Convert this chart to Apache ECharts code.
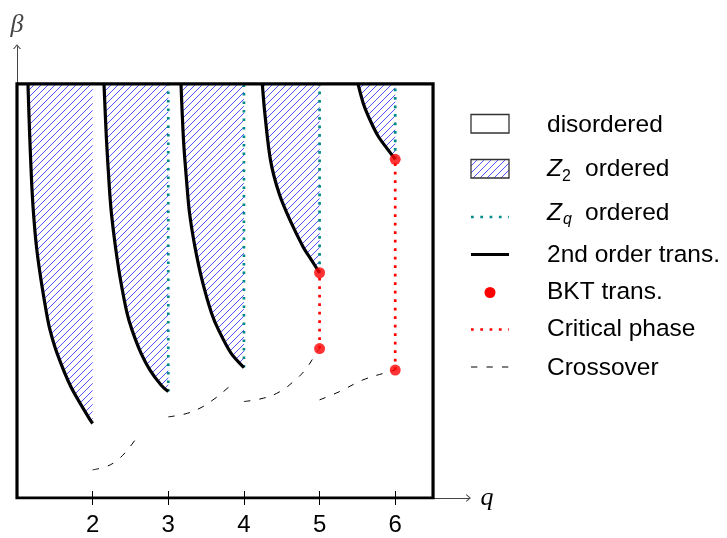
<!DOCTYPE html>
<html>
<head>
<meta charset="utf-8">
<script src="https://cdn.jsdelivr.net/npm/echarts@6/dist/echarts.min.js"></script>
<style>
html, body { margin: 0; padding: 0; background: #fff; }
#phaseChart { width: 727px; height: 538px; }
</style>
</head>
<body>
<div id="phaseChart"></div>
<script>
// q values on the x axis
const qTicks = [2, 3, 4, 5, 6];

// 2nd order transition lines, [q, beta], from top down
const trans2 = [[1.145,1.000],[1.165,0.889],[1.192,0.768],[1.218,0.688],[1.258,0.606],[1.317,0.527],[1.390,0.447],[1.436,0.406],[1.529,0.350],[1.714,0.268],[1.952,0.193],[2,0.180]];
const trans3 = [[2.150,1.000],[2.183,0.865],[2.223,0.744],[2.249,0.686],[2.302,0.606],[2.368,0.527],[2.454,0.447],[2.520,0.406],[2.639,0.350],[2.758,0.309],[2.904,0.273],[3,0.257]];
const trans4 = [[3.168,1.000],[3.201,0.865],[3.241,0.768],[3.281,0.688],[3.353,0.606],[3.446,0.527],[3.571,0.447],[3.664,0.406],[3.829,0.350],[4,0.315]];
const trans5 = [[4.243,1.000],[4.272,0.937],[4.351,0.816],[4.464,0.736],[4.609,0.671],[4.781,0.607],[4.891,0.575],[5,0.544]];
const trans6 = [[5.508,1.000],[5.578,0.953],[5.667,0.913],[5.777,0.873],[5.888,0.845],[6,0.818]];

// Z_q ordered boundaries (dotted teal)
const zqLines = [
    [[3,0.257],[3,1]],
    [[4,0.315],[4,1]],
    [[5,0.544],[5,1]],
    [[6,0.818],[6,1]]
];
// BKT points and critical phase segments
const bktPoints = [[5,0.544],[5,0.361],[6,0.818],[6,0.309]];
const criticalLines = [
    [[5,0.361],[5,0.544]],
    [[6,0.309],[6,0.818]]
];
// crossover (dashed)
const crossover = [
    [[2,0.068],[2.164,0.075],[2.296,0.087],[2.428,0.109],[2.520,0.130],[2.600,0.150]],
    [[3,0.196],[3.221,0.203],[3.419,0.217],[3.591,0.237],[3.710,0.254],[3.842,0.275]],
    [[4,0.233],[4.256,0.241],[4.477,0.257],[4.653,0.281],[4.808,0.309],[4.940,0.345],[5,0.361]],
    [[5,0.237],[5.264,0.257],[5.571,0.285],[5.880,0.303],[6,0.309]]
];
// outer box of the diagram
const frameBox = [[1,0],[6.5,0],[6.5,1],[1,1],[1,0]];

const legendLabels = ['disordered', 'ordered', 'ordered', '2nd order trans.', 'BKT trans.', 'Critical phase', 'Crossover'];

// hatch tile (blue diagonal lines)
const tile = document.createElement('canvas');
tile.width = 7; tile.height = 7;
(function(){
    let c = tile.getContext('2d');
    c.strokeStyle = '#3535ff';
    c.lineWidth = 0.85;
    [-7, 0, 7].forEach(k => {
        c.beginPath();
        c.moveTo(k, 7);
        c.lineTo(k + 7, 0);
        c.stroke();
    });
})();
const hatchFill = { image: tile, repeat: 'repeat' };

const transLines = [trans2, trans3, trans4, trans5, trans6];
const hatchRegions = transLines.map((c, i) => c.concat([[qTicks[i], 1]]));

const sansFont = '"Liberation Sans", Arial, sans-serif';
const teal = '#008a8a';
const arrowPath = 'path://M5,0 L10,6 L8.4,6 L5,1.9 L1.6,6 L0,6 Z';

let myChart = echarts.init(document.getElementById('phaseChart'));

let series = [];
// hatched Z2 ordered regions
series.push({
    type: 'custom',
    silent: true,
    z: 1,
    data: hatchRegions.map(r => r[0]),
    renderItem: function(params, api){
        let pts = hatchRegions[params.dataIndex].map(p => api.coord(p));
        return {
            type: 'polygon',
            shape: { points: pts },
            style: { fill: hatchFill, stroke: null }
        };
    }
});
zqLines.forEach(d => {
    series.push({
        type: 'line', data: d, showSymbol: false, silent: true, z: 2,
        lineStyle: { color: teal, width: 2.7, type: [2.7, 5.8], cap: 'butt' }
    });
});
criticalLines.forEach(d => {
    series.push({
        type: 'line', data: d, showSymbol: false, silent: true, z: 3,
        lineStyle: { color: '#ff0000', width: 2.7, type: [2.7, 5.8], cap: 'butt' }
    });
});
crossover.forEach(d => {
    series.push({
        type: 'line', data: d, showSymbol: false, silent: true, z: 3, smooth: 0.4,
        lineStyle: { color: '#000', width: 1, type: [6.5, 9] }
    });
});
transLines.forEach(d => {
    series.push({
        type: 'line', data: d, showSymbol: false, silent: true, z: 4, smooth: 0.3,
        lineStyle: { color: '#000', width: 3.2 }
    });
});
series.push({
    type: 'scatter', data: bktPoints, symbolSize: 11, silent: true, z: 5,
    itemStyle: { color: '#ff0000' }
});
series.push({
    type: 'line', data: frameBox, showSymbol: false, silent: true, z: 6,
    lineStyle: { color: '#000', width: 3.2, join: 'miter', cap: 'square' }
});

// legend drawn on the right
let lx = 471, tx = 547;
let graphic = [
    { type: 'rect', shape: { x: lx, y: 114.5, width: 38, height: 18.5 }, style: { fill: '#fff', stroke: '#333', lineWidth: 1.3 } },
    { type: 'rect', shape: { x: lx, y: 159.5, width: 38, height: 18.5 }, style: { fill: hatchFill, stroke: '#333', lineWidth: 1.3 } },
    { type: 'line', shape: { x1: lx, y1: 217, x2: lx + 38, y2: 217 }, style: { stroke: teal, lineWidth: 2.7, lineDash: [2.7, 6.6], lineCap: 'butt' } },
    { type: 'line', shape: { x1: lx, y1: 254.5, x2: lx + 38, y2: 254.5 }, style: { stroke: '#000', lineWidth: 3.2 } },
    { type: 'circle', shape: { cx: lx + 19, cy: 292.5, r: 5.5 }, style: { fill: '#ff0000' } },
    { type: 'line', shape: { x1: lx, y1: 329.5, x2: lx + 38, y2: 329.5 }, style: { stroke: '#ff0000', lineWidth: 2.7, lineDash: [2.7, 6.6], lineCap: 'butt' } },
    { type: 'line', shape: { x1: lx, y1: 367, x2: lx + 38, y2: 367 }, style: { stroke: '#000', lineWidth: 1, lineDash: [6.3, 9.2] } }
];
let textY = [125, 169, 213.5, 255.7, 292.7, 329, 368.4];
textY.forEach((y, i) => {
    graphic.push({
        type: 'text', x: i === 1 || i === 2 ? 585 : tx, y: y,
        style: { text: legendLabels[i], fill: '#000', fontSize: 24.5, fontFamily: sansFont, verticalAlign: 'middle' }
    });
});
// Z_2 and Z_q symbols
graphic.push(
    { type: 'text', x: tx, y: 169, style: { text: 'Z', fill: '#000', fontSize: 24.5, fontStyle: 'italic', fontFamily: sansFont, verticalAlign: 'middle' } },
    { type: 'text', x: 562, y: 176.5, style: { text: '2', fill: '#000', fontSize: 16, fontFamily: sansFont, verticalAlign: 'middle' } },
    { type: 'text', x: tx, y: 213.5, style: { text: 'Z', fill: '#000', fontSize: 24.5, fontStyle: 'italic', fontFamily: sansFont, verticalAlign: 'middle' } },
    { type: 'text', x: 563, y: 219.5, style: { text: 'q', fill: '#000', fontSize: 16, fontStyle: 'italic', fontFamily: sansFont, verticalAlign: 'middle' } }
);

let gridPos = { left: 17, right: 258.4, top: 46.7, bottom: 40 };

let option = {
    animation: false,
    backgroundColor: '#fff',
    grid: [Object.assign({}, gridPos), Object.assign({}, gridPos)],
    xAxis: [{
        type: 'value', gridIndex: 0, min: 1, max: 6.97,
        name: 'q', nameLocation: 'end', nameGap: 12,
        nameTextStyle: { fontSize: 26, fontStyle: 'italic', fontFamily: '"Liberation Serif", serif', color: '#000' },
        axisLine: { show: true, symbol: ['none', arrowPath], symbolSize: [8, 5], lineStyle: { color: '#444', width: 1 } },
        axisTick: { show: false },
        axisLabel: { customValues: qTicks, fontSize: 24, fontFamily: sansFont, color: '#000', margin: 15 },
        splitLine: { show: false }
    }, {
        type: 'value', gridIndex: 1, min: 1, max: 6.97, offset: -7,
        axisLine: { show: false },
        axisTick: { show: true, customValues: qTicks, length: 14, lineStyle: { color: '#000', width: 1 } },
        axisLabel: { show: false },
        splitLine: { show: false }
    }],
    yAxis: [{
        type: 'value', gridIndex: 0, min: 0, max: 1.09,
        name: 'β', nameLocation: 'end', nameGap: 9,
        nameTextStyle: { fontSize: 26, fontStyle: 'italic', fontFamily: '"Liberation Serif", serif', color: '#444' },
        axisLine: { show: true, symbol: ['none', arrowPath], symbolSize: [8, 5], lineStyle: { color: '#444', width: 1 } },
        axisTick: { show: false },
        axisLabel: { show: false },
        splitLine: { show: false }
    }, {
        type: 'value', gridIndex: 1, min: 0, max: 1.09, show: false
    }],
    graphic: graphic,
    series: series
};
myChart.setOption(option);
</script>
</body>
</html>
